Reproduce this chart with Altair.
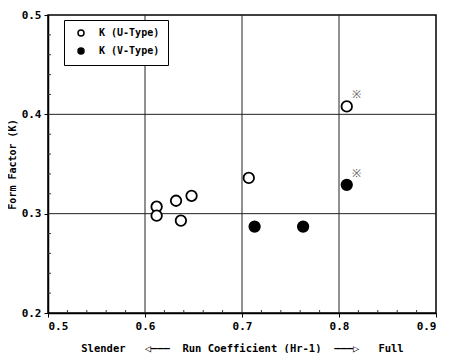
import altair as alt
import pandas as pd

# Data
u_x = [0.612, 0.612, 0.632, 0.648, 0.637, 0.707, 0.808]
u_y = [0.307, 0.298, 0.313, 0.318, 0.293, 0.336, 0.408]
v_x = [0.713, 0.763, 0.808]
v_y = [0.287, 0.287, 0.329]
u_note = ["", "", "", "", "", "", "※"]
v_note = ["", "", "※"]

x_major = [0.5, 0.6, 0.7, 0.8, 0.9]
y_major = [0.2, 0.3, 0.4, 0.5]
x_grid = [0.6, 0.7, 0.8]
y_grid = [0.3, 0.4]
x_minor = [0.52, 0.54, 0.56, 0.58, 0.62, 0.64, 0.66, 0.68, 0.72, 0.74, 0.76, 0.78, 0.82, 0.84, 0.86, 0.88]
y_minor = [0.22, 0.24, 0.26, 0.28, 0.32, 0.34, 0.36, 0.38, 0.42, 0.44, 0.46, 0.48]

U_LABEL = "K (U-Type)"
V_LABEL = "K (V-Type)"

pts = pd.DataFrame({
    "x": u_x + v_x,
    "y": u_y + v_y,
    "type": [U_LABEL] * len(u_x) + [V_LABEL] * len(v_x),
    "note": u_note + v_note,
})

FONT = "DejaVu Sans Mono"
W, H = 388, 298
S = "\u00a0"
x_title = f"Slender{S*3}◁———{S*2}Run{S}Coefficient{S}(Hr-1){S*2}———▷{S*3}Full"

xs = alt.Scale(domain=[0.5, 0.9], nice=False, zero=False)
ys = alt.Scale(domain=[0.2, 0.5], nice=False, zero=False)

xgrid = alt.Chart(pd.DataFrame({"x": x_grid})).mark_rule(color="#222", strokeWidth=1).encode(
    x=alt.X("x:Q", scale=xs)
)
ygrid = alt.Chart(pd.DataFrame({"y": y_grid})).mark_rule(color="#222", strokeWidth=1).encode(
    y=alt.Y("y:Q", scale=ys)
)
xminor = alt.Chart(pd.DataFrame({"x": x_minor})).mark_rule(color="#333", strokeWidth=1).encode(
    x=alt.X("x:Q", scale=xs), y=alt.value(H), y2=alt.value(H - 3)
)
yminor = alt.Chart(pd.DataFrame({"y": y_minor})).mark_rule(color="#333", strokeWidth=1).encode(
    y=alt.Y("y:Q", scale=ys), x=alt.value(0), x2=alt.value(3)
)

points = alt.Chart(pts).mark_point(shape="circle", filled=False, size=110, strokeWidth=1.8, opacity=1).encode(
    x=alt.X("x:Q", scale=xs,
            axis=alt.Axis(values=x_major, format=".1f", grid=False, tickSize=4, title=x_title)),
    y=alt.Y("y:Q", scale=ys,
            axis=alt.Axis(values=y_major, format=".1f", grid=False, tickSize=4,
                          title="Form Factor (K)")),
    fill=alt.Fill("type:N", scale=alt.Scale(domain=[U_LABEL, V_LABEL], range=["white", "black"]),
                  legend=alt.Legend(title=None, orient="none", legendX=16, legendY=5,
                                    strokeColor="black", padding=8, rowPadding=6,
                                    symbolSize=36, symbolStrokeColor="black", symbolStrokeWidth=1.5,
                                    labelFont=FONT, labelFontSize=10, labelFontWeight="bold",
                                    labelColor="black", fillColor="white", symbolOffset=4,
                                    labelOffset=13)),
    stroke=alt.value("black"),
)

notes = alt.Chart(pts).mark_text(fontSize=11, dx=10, dy=-11, color="#555", font=FONT).encode(
    x=alt.X("x:Q", scale=xs), y=alt.Y("y:Q", scale=ys), text="note:N"
)

chart = alt.layer(xgrid, ygrid, xminor, yminor, points, notes).properties(
    width=W, height=H,
    autosize=alt.AutoSizeParams(type="none"),
    padding={"left": 40, "top": 7, "right": 6, "bottom": 40},
).configure_view(
    stroke="black", strokeWidth=1.5
).configure_axis(
    labelFont=FONT, labelFontSize=11, labelFontWeight="bold", labelColor="black",
    titleFont=FONT, titleFontSize=10, titleFontWeight="bold", titleColor="black",
    domainColor="black", domainWidth=1.5, tickColor="black", labelPadding=3,
).configure_axisX(titlePadding=12, titleFontSize=10.5).configure_axisY(titlePadding=4)

chart.save("out.html", embed_options={"renderer": "svg", "actions": False})
